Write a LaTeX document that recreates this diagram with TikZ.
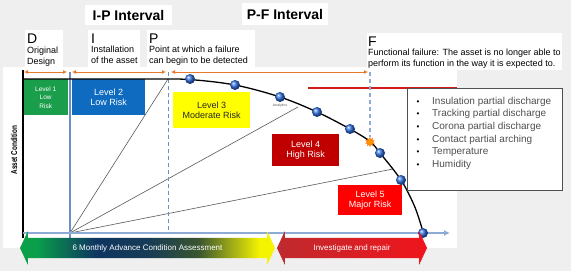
\documentclass[tikz,border=0pt]{standalone}
\usepackage{fontspec}
\setmainfont{Liberation Sans}
\usetikzlibrary{arrows.meta, shapes, positioning, calc}
\definecolor{pagegrey}{HTML}{EFEFEF}
\definecolor{dimorange}{HTML}{E8792B}
\definecolor{axisblue}{HTML}{8EABD6}
\definecolor{steelblue}{HTML}{6F8FC4}
\definecolor{lowgreen}{HTML}{1B9E4B}
\definecolor{lowblue}{HTML}{0E6BC0}
\definecolor{modyellow}{HTML}{FFFF00}
\definecolor{highred}{HTML}{C00000}
\definecolor{majorred}{HTML}{FF0000}
\definecolor{failred}{HTML}{D01919}
\definecolor{ballblue}{HTML}{2F6FE0}
\definecolor{textgrey}{HTML}{505050}
\definecolor{cmgreen}{HTML}{0AA04A}
\definecolor{cmnavy}{HTML}{0E3560}
\definecolor{cmolive}{HTML}{3A5530}
\definecolor{cmyellow}{HTML}{F4F400}
\definecolor{repdark}{HTML}{BE2B2E}
\definecolor{repbright}{HTML}{F0141C}
\pgfdeclarehorizontalshading{assessfade}{100bp}{color(0bp)=(cmgreen); color(28bp)=(cmgreen); color(40bp)=(cmnavy); color(50bp)=(cmnavy!80!cmolive); color(60bp)=(cmolive); color(72bp)=(cmyellow); color(100bp)=(cmyellow)}

\begin{document}
\begin{tikzpicture}[x=1pt, y=-1pt,
    levelbox/.style={inner sep=0pt, align=center, anchor=north west, font=\fontsize{9}{10.5}\selectfont},
    tag/.style={anchor=base west, inner sep=0pt, font=\fontsize{14}{14}\selectfont},
    note/.style={anchor=north west, align=left, inner sep=0pt, font=\fontsize{9}{11}\selectfont},
    dimline/.style={dimorange, line width=0.8pt, {Latex[length=4pt,width=4pt]}-{Latex[length=4pt,width=4pt]}},
    sensor/.style={circle, ball color=ballblue, minimum size=10pt, inner sep=0pt},
    ray/.style={gray!70!black, line width=0.6pt},
    bigarrow/.style={double arrow, double arrow head extend=6.5pt, double arrow tip angle=130,
      text=white, font=\fontsize{8}{8}\selectfont, text height=6pt, text depth=2pt,
      inner ysep=6pt, inner xsep=0pt}]
  \useasboundingbox (0,0) rectangle (571,271);
  % Fondo y paneles
  \fill[pagegrey] (0,0) rectangle (571,271);
  \fill[white] (3,67) rectangle (457,248);
  \fill[white] (25,30) rectangle (63,67);
  \fill[white] (88,30) rectangle (140,67);
  \fill[white] (147,30) rectangle (255,67);
  \fill[white] (367,33) rectangle (562,70);

  % Intervalos
  \node[fill=white, minimum width=87pt, minimum height=20pt, font=\fontsize{14}{14}\selectfont\bfseries] (iphead) at (128.5,15) {I-P Interval};
  \node[fill=white, minimum width=86pt, minimum height=22pt, font=\fontsize{14}{14}\selectfont\bfseries] (pfhead) at (285,14) {P-F Interval};

  \node[tag] (dtag) at (27,43) {D};
  \node[note] (dnote) at (27,47) {Original\\Design};
  \node[tag] (itag) at (91,43) {I};
  \node[note] (inote) at (91,46) {Installation\\of the asset};
  \node[tag] (ptag) at (149,43) {P};
  \node[note] (pnote) at (149,46) {Point at which a failure\\can begin to be detected};
  \node[tag] (ftag) at (368,46) {F};
  \node[note] (fnote) at (368,49) {Functional failure: The asset is no longer able to\\perform its function in the way it is expected to.};

  % Niveles de riesgo
  \node[levelbox, fill=lowgreen, text=white, minimum width=45pt, minimum height=36pt, font=\fontsize{6.5}{8.5}\selectfont] (lvlone) at (23,79) {Level 1\\Low\\Risk};
  \node[levelbox, fill=lowblue, text=white, minimum width=73pt, minimum height=36pt] (lvltwo) at (72,79) {Level 2\\Low Risk};
  \node[levelbox, fill=modyellow, text=black!85, minimum width=77pt, minimum height=36pt] (lvlthree) at (173,92) {Level 3\\Moderate Risk};
  \node[levelbox, fill=highred, text=white, minimum width=67pt, minimum height=32pt] (lvlfour) at (272,134) {Level 4\\High Risk};
  \node[levelbox, fill=majorred, text=white, minimum width=64pt, minimum height=30pt] (lvlfive) at (338,185) {Level 5\\Major Risk};

  % Rectas desde la instalacion
  \coordinate (inst) at (70,233);
  \coordinate (ptop) at (168,79);
  \coordinate (ana) at (298,107);
  \coordinate (late) at (393,169);
  \draw[ray] (inst) -- (ptop);
  \draw[ray] (inst) -- (ana);
  \draw[ray] (inst) -- (late);

  % Ejes y marcas
  \draw[steelblue, line width=1.3pt] (70,72) -- (70,238);
  \draw[steelblue, line width=1pt, dash pattern=on 4pt off 3pt] (168,72) -- (168,233);
  \draw[black, line width=1.6pt] (23,70) -- (23,238);
  \draw[axisblue, line width=1.5pt, -{Latex[length=6pt,width=6pt]}] (23,233) -- (450,233);
  \draw[failred, line width=2.6pt] (308,88) -- (457,88);
  \draw[dimline] (24,72) -- (67,72);
  \draw[dimline] (72,72) -- (166,72);
  \draw[dimline] (171,72) -- (368,72);

  % Curva P-F
  \draw[black, line width=1.3pt] plot[smooth, tension=0.55] coordinates {(23,79) (150,79) (190,79.6) (235,85) (280,97) (317,112) (350,129) (370,141.5) (380,153) (401,180) (414,205) (421,225) (423,233)};
  \node[star, star points=10, star point ratio=1.7, fill=orange!85!yellow, draw=orange!80!red, line width=0.3pt, minimum size=9pt, inner sep=0pt] (fault) at (370,142) {};
  \draw[axisblue, line width=1.2pt, dash pattern=on 4pt off 3pt] (370,72) -- (fault.north);
  \foreach \px/\py [count=\k] in {190/79, 235/85, 280/97, 317/112, 350/129, 380/153, 401/180, 423/233}
    \node[sensor] (s\k) at (\px,\py) {};
  \node[font=\fontsize{3.5}{4}\selectfont, text=textgrey, inner sep=0pt] (analytics) at (280,106) {Analytics};

  \node[rotate=90, inner sep=0pt, font=\fontsize{8.5}{9}\selectfont\bfseries] (ylabel) at (14,150) {\scalebox{0.75}[1]{Asset Condition}};

  % Lista de sensores
  \node[draw=textgrey, line width=0.9pt, fill=white, minimum width=155pt, minimum height=102pt, anchor=north west] (sensors) at (407,88) {};
  \foreach \entry [count=\i] in {Insulation partial discharge, Tracking partial discharge, Corona partial discharge, Contact partial arching, Temperature, Humidity} {
    \node[anchor=base west, inner sep=0pt, text=textgrey, font=\fontsize{10}{10}\selectfont] (item\i) at (432,{104+12.7*(\i-1)}) {\entry};
    \node[anchor=base, inner sep=0pt, font=\fontsize{8}{8}\selectfont] (bul\i) at (418,{104+12.7*(\i-1)}) {\textbullet};
  }

  % Flechas inferiores
  \node[bigarrow, shade, shading=assessfade, minimum height=255pt] (assess) at (147.5,248) {6 Monthly Advance Condition Assessment};
  \node[bigarrow, left color=repdark, right color=repbright, minimum height=150pt] (repair) at (352,248) {Investigate and repair};
\end{tikzpicture}
\end{document}
